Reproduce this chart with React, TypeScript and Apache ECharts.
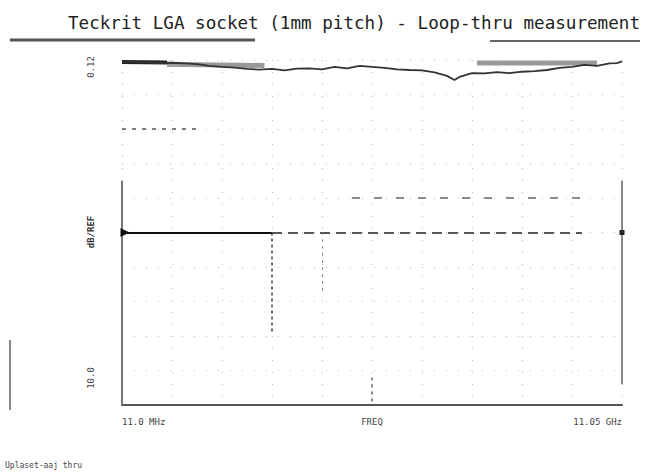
import React, { useEffect, useRef } from "react";
import * as echarts from "echarts";

const titleText = "Teckrit LGA socket (1mm pitch) - Loop-thru measurement";
const footText = "Uplaset-aaj thru";
const xTickLabels: Record<number, string> = { 0: "11.0 MHz", 5: "FREQ", 10: "11.05 GHz" };
const yLabels = ["0.12", "dB/REF", "10.0"];

// frequency position in divisions (0..10), trace in dB (1 dB/div)
const traceX = [0, 0.25, 0.5, 0.75, 1, 1.25, 1.5, 1.75, 2, 2.25, 2.5, 2.75, 3, 3.25, 3.5, 3.75, 4, 4.25, 4.5, 4.75, 5, 5.25, 5.5, 5.75, 6, 6.25, 6.5, 6.65, 6.75, 7, 7.25, 7.5, 7.75, 8, 8.25, 8.5, 8.75, 9, 9.25, 9.5, 9.75, 9.9, 10];
const traceDb = [-0.06, -0.06, -0.07, -0.09, -0.08, -0.1, -0.12, -0.17, -0.2, -0.22, -0.26, -0.28, -0.26, -0.3, -0.25, -0.24, -0.27, -0.2, -0.24, -0.17, -0.2, -0.23, -0.27, -0.29, -0.3, -0.36, -0.46, -0.58, -0.49, -0.38, -0.39, -0.35, -0.38, -0.34, -0.32, -0.29, -0.23, -0.2, -0.14, -0.17, -0.1, -0.09, -0.04];
const memoryX = [0.9, 2.85, 2.86, 7.1, 9.5];
const memoryDb: (number | null)[] = [-0.12, -0.16, null, -0.09, -0.09];
const boldX = [0, 0.9];
const boldDb = [-0.06, -0.07];
const refLevel = -5;

export default function App() {
  const ref = useRef<HTMLDivElement>(null);
  useEffect(() => {
    const chart = echarts.init(ref.current!, undefined, { renderer: "svg" });
    const mono = "DejaVu Sans Mono";
    chart.setOption({
      animation: false,
      backgroundColor: "#ffffff",
      grid: { left: 122, top: 60, width: 500, height: 345 },
      title: {
        text: titleText,
        left: 349,
        top: 9,
        textAlign: "center",
        textStyle: { fontFamily: mono, fontSize: 17.6, fontWeight: "normal", color: "#222" },
      },
      xAxis: {
        type: "value",
        min: 0,
        max: 10,
        interval: 1,
        axisLine: { show: true, onZero: false, lineStyle: { color: "#555", width: 2 } },
        axisTick: { show: false },
        axisLabel: {
          show: true,
          margin: 12,
          fontFamily: mono,
          fontSize: 9,
          color: "#444",
          alignMinLabel: "left",
          alignMaxLabel: "right",
          formatter: (v: number) => xTickLabels[v] ?? "",
        },
        splitLine: { show: true, lineStyle: { color: "#bbb", type: [1, 11], width: 1 } },
      },
      yAxis: {
        type: "value",
        min: -10,
        max: 0,
        interval: 1,
        axisLine: { show: false },
        axisTick: { show: false },
        axisLabel: { show: false },
        splitLine: { show: true, lineStyle: { color: "#bbb", type: [1, 11], width: 1 } },
      },
      graphic: [
        { type: "line", shape: { x1: 10, y1: 40, x2: 255, y2: 40 }, style: { stroke: "#555", lineWidth: 3 } },
        { type: "line", shape: { x1: 490, y1: 41, x2: 640, y2: 41 }, style: { stroke: "#666", lineWidth: 2 } },
        { type: "line", shape: { x1: 10, y1: 340, x2: 10, y2: 410 }, style: { stroke: "#888", lineWidth: 2 } },
        { type: "text", x: 91, y: 67, rotation: Math.PI / 2, style: { text: yLabels[0], fontFamily: mono, fontSize: 9, fill: "#444", textAlign: "center", textVerticalAlign: "middle" } },
        { type: "text", x: 91, y: 232, rotation: Math.PI / 2, style: { text: yLabels[1], fontFamily: mono, fontSize: 9, fill: "#333", fontWeight: "bold", textAlign: "center", textVerticalAlign: "middle" } },
        { type: "text", x: 91, y: 378, rotation: Math.PI / 2, style: { text: yLabels[2], fontFamily: mono, fontSize: 9, fill: "#444", textAlign: "center", textVerticalAlign: "middle" } },
        { type: "text", x: 5, y: 465, style: { text: footText, fontFamily: mono, fontSize: 8, fill: "#444", textVerticalAlign: "middle" } },
      ],
      series: [
        {
          type: "line",
          name: "memory",
          data: memoryX.map((x, i) => [x, memoryDb[i]]),
          connectNulls: false,
          showSymbol: false,
          lineStyle: { color: "#999", width: 5 },
          z: 2,
        },
        {
          type: "line",
          name: "marker band",
          data: boldX.map((x, i) => [x, boldDb[i]]),
          showSymbol: false,
          lineStyle: { color: "#222", width: 4 },
          z: 3,
        },
        {
          type: "line",
          name: "S21",
          data: traceX.map((x, i) => [x, traceDb[i]]),
          showSymbol: false,
          lineStyle: { color: "#333", width: 1.8 },
          z: 3,
          markLine: {
            silent: true,
            symbol: "none",
            label: { show: false },
            data: [
              [{ coord: [0, -3.5], lineStyle: { color: "#777", width: 2, type: "solid" } }, { coord: [0, -10] }],
              [{ coord: [10, -3.5], lineStyle: { color: "#888", width: 2, type: "solid" } }, { coord: [10, -9.4] }],
              [{ coord: [0.1, refLevel], lineStyle: { color: "#111", width: 2, type: "solid" } }, { coord: [3, refLevel] }],
              [{ coord: [3, refLevel], lineStyle: { color: "#222", width: 1.5, type: [10, 6] } }, { coord: [9.2, refLevel] }],
              [{ coord: [3, refLevel], lineStyle: { color: "#444", width: 1.5, type: [3, 3] } }, { coord: [3, -7.9] }],
              [{ coord: [4, refLevel], lineStyle: { color: "#666", width: 1, type: [2, 5] } }, { coord: [4, -6.7] }],
              [{ coord: [0, -2], lineStyle: { color: "#555", width: 1.5, type: [4, 6] } }, { coord: [1.6, -2] }],
              [{ coord: [4.6, -4], lineStyle: { color: "#666", width: 1.5, type: [8, 14] } }, { coord: [9.3, -4] }],
              [{ coord: [5, -9.2], lineStyle: { color: "#666", width: 1.5, type: [3, 4] } }, { coord: [5, -10] }],
            ],
          },
          markPoint: {
            silent: true,
            label: { show: false },
            data: [
              { coord: [0.06, refLevel], symbol: "triangle", symbolRotate: -90, symbolSize: 9, itemStyle: { color: "#111" } },
              { coord: [10, refLevel], symbol: "rect", symbolSize: 5, itemStyle: { color: "#222" } },
            ],
          },
        },
      ],
    });
    return () => chart.dispose();
  }, []);
  return <div ref={ref} style={{ position: "fixed", left: 0, top: 0, width: 649, height: 474 }} />;
}
